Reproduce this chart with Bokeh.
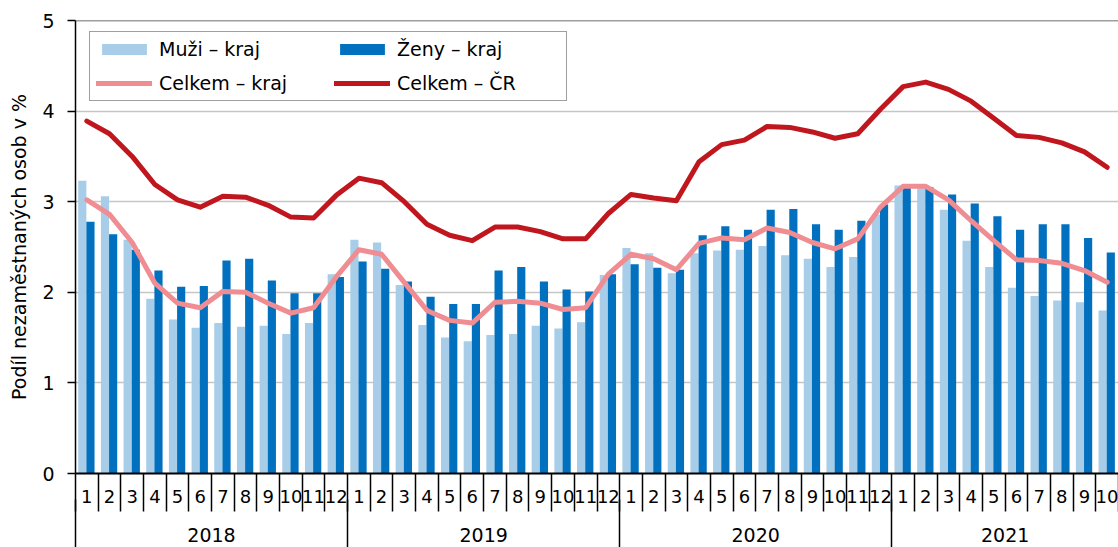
from bokeh.plotting import figure
from bokeh.models import (ColumnDataSource, Range1d, FixedTicker, LinearAxis,
                          Span, Legend, LegendItem)
from bokeh.transform import dodge
from bokeh.embed import file_html
from bokeh.resources import INLINE

# ---------------- data ----------------
years = [2018] * 12 + [2019] * 12 + [2020] * 12 + [2021] * 10
months = list(range(1, 13)) * 3 + list(range(1, 11))

muzi_kraj = [3.23, 3.06, 2.58, 1.93, 1.70, 1.61, 1.66, 1.62, 1.63, 1.54, 1.66, 2.20,
             2.58, 2.55, 2.08, 1.64, 1.50, 1.46, 1.53, 1.54, 1.63, 1.60, 1.67, 2.19,
             2.49, 2.43, 2.21, 2.43, 2.46, 2.47, 2.51, 2.41, 2.37, 2.28, 2.39, 2.86,
             3.18, 3.17, 2.91, 2.57, 2.28, 2.05, 1.96, 1.91, 1.89, 1.80]
zeny_kraj = [2.78, 2.64, 2.47, 2.24, 2.06, 2.07, 2.35, 2.37, 2.13, 1.99, 1.99, 2.17,
             2.34, 2.26, 2.12, 1.95, 1.87, 1.87, 2.24, 2.28, 2.12, 2.03, 2.01, 2.20,
             2.31, 2.27, 2.25, 2.63, 2.73, 2.69, 2.91, 2.92, 2.75, 2.69, 2.79, 2.97,
             3.16, 3.16, 3.08, 2.98, 2.84, 2.69, 2.75, 2.75, 2.60, 2.44]
celkem_kraj = [3.02, 2.86, 2.55, 2.10, 1.88, 1.83, 2.01, 2.00, 1.88, 1.77, 1.83, 2.17,
               2.47, 2.42, 2.11, 1.80, 1.69, 1.66, 1.89, 1.90, 1.88, 1.81, 1.83, 2.20,
               2.42, 2.37, 2.25, 2.54, 2.60, 2.58, 2.71, 2.66, 2.55, 2.48, 2.59, 2.94,
               3.17, 3.17, 3.02, 2.79, 2.57, 2.36, 2.35, 2.32, 2.24, 2.11]
celkem_cr = [3.89, 3.75, 3.50, 3.19, 3.02, 2.94, 3.06, 3.05, 2.96, 2.83, 2.82, 3.07,
             3.26, 3.21, 3.00, 2.75, 2.63, 2.57, 2.72, 2.72, 2.67, 2.59, 2.59, 2.87,
             3.08, 3.04, 3.01, 3.44, 3.63, 3.68, 3.83, 3.82, 3.77, 3.70, 3.75, 4.02,
             4.27, 4.32, 4.24, 4.11, 3.92, 3.73, 3.71, 3.65, 3.55, 3.38]

y_ticks = [0, 1, 2, 3, 4, 5]
labels = ["Muži – kraj", "Ženy – kraj", "Celkem – kraj", "Celkem – ČR"]
y_title = "Podíl nezaměstnaných osob v %"

# ---------------- styles ----------------
FONT = "DejaVu Sans"
LIGHT = "#A7CDE9"
DARK = "#0070BF"
PINK = "#EF8D92"
RED = "#C0171F"

idx = list(range(len(months)))
src = ColumnDataSource(dict(x=idx, muzi=muzi_kraj, zeny=zeny_kraj,
                            ck=celkem_kraj, cr=celkem_cr))

p = figure(width=1118, height=547, output_backend="svg", toolbar_location=None,
           x_range=Range1d(-0.5, len(idx) - 0.5), y_range=Range1d(0, 5),
           min_border_left=75, min_border_right=0, min_border_top=20,
           min_border_bottom=74, x_axis_location=None)
p.outline_line_color = None
p.background_fill_color = "white"
p.border_fill_color = "white"

# bars
r_m = p.vbar(x=dodge("x", -0.2, range=p.x_range), top="muzi", width=0.36,
             source=src, fill_color=LIGHT, line_color=None)
r_z = p.vbar(x=dodge("x", 0.16, range=p.x_range), top="zeny", width=0.36,
             source=src, fill_color=DARK, line_color=None)
# lines
r_ck = p.line("x", "ck", source=src, line_color=PINK, line_width=5,
              line_join="round", line_cap="round")
r_cr = p.line("x", "cr", source=src, line_color=RED, line_width=5,
              line_join="round", line_cap="round")

# grid / top line
p.xgrid.visible = False
p.ygrid.grid_line_color = "#C6C6C6"
p.ygrid.grid_line_width = 1.5
p.add_layout(Span(location=5, dimension="width", line_color="#404040", line_width=1.5))

# y axis
yax = p.yaxis[0]
yax.ticker = FixedTicker(ticks=y_ticks)
yax.axis_label = y_title
yax.axis_label_text_font = FONT
yax.axis_label_text_font_size = "19px"
yax.axis_label_text_font_style = "normal"
yax.axis_label_text_color = "black"
yax.axis_label_standoff = 9
yax.major_label_text_font = FONT
yax.major_label_text_font_size = "19px"
yax.major_label_text_color = "black"
yax.major_label_standoff = 13
yax.major_tick_out = 8
yax.major_tick_in = 0
yax.minor_tick_out = 0
yax.minor_tick_in = 0
yax.axis_line_width = 1.5
yax.axis_line_color = "black"
yax.major_tick_line_color = "black"
yax.major_tick_line_width = 1.5

# month axis: labels between separator ticks (ticks drawn outward via negative tick_in)
month_axis = LinearAxis(
    ticker=FixedTicker(ticks=idx, minor_ticks=[i - 0.5 for i in range(len(idx) + 1)]),
    major_label_overrides={i: str(m) for i, m in zip(idx, months)},
    major_tick_out=0, major_tick_in=0, minor_tick_out=0, minor_tick_in=-38,
    minor_tick_line_color="black", minor_tick_line_width=1.5,
    axis_line_color="black", axis_line_width=2,
    major_label_standoff=16, major_label_text_font=FONT,
    major_label_text_font_size="18px", major_label_text_color="black")
p.add_layout(month_axis, "below")

# year axis
year_list = sorted(set(years))
year_centers = []
year_bounds = []
for y in year_list:
    ii = [i for i, yy in zip(idx, years) if yy == y]
    year_centers.append(sum(ii) / len(ii))
    year_bounds.append(ii[0] - 0.5)
year_axis = LinearAxis(
    ticker=FixedTicker(ticks=year_centers, minor_ticks=year_bounds),
    major_label_overrides={c: str(y) for c, y in zip(year_centers, year_list)},
    major_tick_out=0, major_tick_in=0, minor_tick_out=-6, minor_tick_in=-46,
    minor_tick_line_color="black", minor_tick_line_width=1.5,
    axis_line_color=None,
    major_label_standoff=22, major_label_text_font=FONT,
    major_label_text_font_size="19px", major_label_text_color="black")
p.add_layout(year_axis, "below")

# legend
legend = Legend(items=[LegendItem(label=labels[0], renderers=[r_m]),
                       LegendItem(label=labels[1], renderers=[r_z]),
                       LegendItem(label=labels[2], renderers=[r_ck]),
                       LegendItem(label=labels[3], renderers=[r_cr])],
                orientation="horizontal", ncols=2,
                location=(14, 372), margin=0, padding=6, spacing=12,
                glyph_width=56, glyph_height=14, label_standoff=7, label_width=163,
                label_text_font=FONT, label_text_font_size="19px",
                label_text_color="black",
                border_line_color="#404040", border_line_width=1,
                background_fill_color="white", background_fill_alpha=1)
p.add_layout(legend, "center")

open("out.html", "w").write(file_html(p, INLINE))
